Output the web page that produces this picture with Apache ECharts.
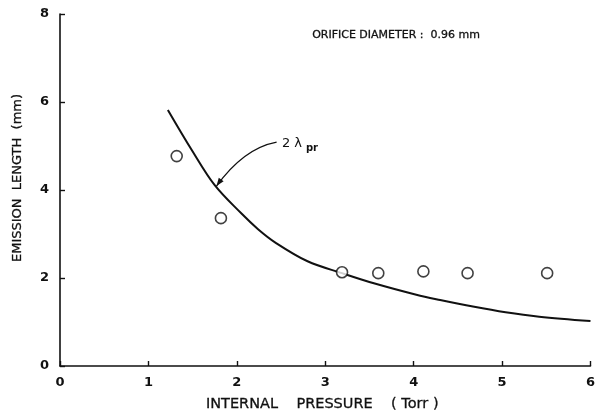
<!DOCTYPE html>
<html>
<head>
<meta charset="utf-8">
<script src="https://cdn.jsdelivr.net/npm/echarts@6/dist/echarts.min.js"></script>
<style>
html,body{margin:0;padding:0;background:#fff;}
#c{width:598px;height:417px;}
</style>
</head>
<body>
<div id="c"></div>
<script>
// Data
var xTicks = [0, 1, 2, 3, 4, 5, 6];
var yTicks = [0, 2, 4, 6, 8];
var measuredPressure = [1.32, 1.82, 3.19, 3.60, 4.11, 4.61, 5.51];
var measuredLength   = [4.77, 3.36, 2.13, 2.11, 2.15, 2.11, 2.11];
var curvePressure = [1.22, 1.49, 1.75, 2.05, 2.24, 2.44, 2.80, 3.19, 3.55, 4.03, 4.30, 4.67, 5.04, 5.42, 6.00];
var curveLength   = [5.82, 4.91, 4.11, 3.47, 3.11, 2.80, 2.38, 2.11, 1.88, 1.62, 1.50, 1.35, 1.22, 1.12, 1.02];
var xTitle = 'INTERNAL    PRESSURE    ( Torr )';
var yTitle = 'EMISSION  LENGTH  (mm)';
var noteText = 'ORIFICE DIAMETER :  0.96 mm';
var curveLabel = '2 \u03bb';
var curveLabelSub = 'pr';

var WFONT = '"DejaVu Sans", sans-serif';
var INK = '#111';

var chart = echarts.init(document.getElementById('c'), null, {renderer: 'canvas'});

function zip(a, b) { return a.map(function (v, i) { return [v, b[i]]; }); }

var option = {
  animation: false,
  backgroundColor: '#fff',
  grid: {left: 60, right: 3, top: 14, bottom: 51, containLabel: false},
  xAxis: {
    type: 'value', min: xTicks[0], max: xTicks[xTicks.length - 1], interval: 1,
    axisLine: {show: true, onZero: false, lineStyle: {color: INK, width: 1.6}},
    axisTick: {show: true, inside: true, length: 5, lineStyle: {color: INK, width: 1.4}},
    axisLabel: {color: INK, fontFamily: WFONT, fontSize: 13, fontWeight: 'bold', margin: 10,
      formatter: function (v) { return xTicks.indexOf(v) >= 0 ? String(v) : ''; }},
    splitLine: {show: false}
  },
  yAxis: {
    type: 'value', min: yTicks[0], max: yTicks[yTicks.length - 1], interval: 2,
    axisLine: {show: true, onZero: false, lineStyle: {color: INK, width: 1.6}},
    axisTick: {show: true, inside: true, length: 5, lineStyle: {color: INK, width: 1.4}},
    axisLabel: {color: INK, fontFamily: WFONT, fontSize: 13, fontWeight: 'bold', margin: 11,
      formatter: function (v) { return yTicks.indexOf(v) >= 0 ? String(v) : ''; }},
    splitLine: {show: false}
  },
  series: [
    {
      type: 'line', data: zip(curvePressure, curveLength), smooth: 0.35,
      symbol: 'none', lineStyle: {color: INK, width: 2}, z: 2
    },
    {
      type: 'scatter', data: zip(measuredPressure, measuredLength),
      symbol: 'circle', symbolSize: 11,
      itemStyle: {color: '#fff', borderColor: INK, borderWidth: 1.6}, z: 3
    }
  ]
};
chart.setOption(option);

// Annotations placed via the axis scales
function px(x, y) { return chart.convertToPixel({gridIndex: 0}, [x, y]); }
var gridLeft = px(0, 0)[0], gridRight = px(6, 0)[0];
var gridTop = px(0, 8)[1], gridBottom = px(0, 0)[1];

var noteAt = px(2.85, 7.5);
var labelAt = px(2.51, 5.03);
var arrowStart = px(2.45, 5.09);
var arrowCtrl = px(2.08, 4.95);
var arrowEnd = px(1.77, 4.09);

var dx = arrowEnd[0] - arrowCtrl[0], dy = arrowEnd[1] - arrowCtrl[1];
var len = Math.sqrt(dx * dx + dy * dy); dx /= len; dy /= len;
var hl = 8, hw = 3;
var head = [
  [arrowEnd[0], arrowEnd[1]],
  [arrowEnd[0] - dx * hl - dy * hw, arrowEnd[1] - dy * hl + dx * hw],
  [arrowEnd[0] - dx * hl + dy * hw, arrowEnd[1] - dy * hl - dx * hw]
];

chart.setOption({
  graphic: [
    {type: 'text', left: noteAt[0], top: noteAt[1] - 7,
      style: {text: noteText, font: '11px ' + WFONT, fill: INK, stroke: INK, lineWidth: 0.3}},
    {type: 'text', left: labelAt[0], top: labelAt[1] - 8,
      style: {text: curveLabel, font: '13px ' + WFONT, fill: INK}},
    {type: 'text', left: labelAt[0] + 24, top: labelAt[1] - 1,
      style: {text: curveLabelSub, font: 'bold 10px ' + WFONT, fill: INK}},
    {type: 'bezierCurve', shape: {x1: arrowStart[0], y1: arrowStart[1], x2: arrowEnd[0], y2: arrowEnd[1],
      cpx1: arrowCtrl[0], cpy1: arrowCtrl[1]}, style: {stroke: INK, lineWidth: 1.2, fill: null}},
    {type: 'polygon', shape: {points: head}, style: {fill: INK}},
    {type: 'text', x: (gridLeft + gridRight) / 2 - 3, y: gridBottom + 38,
      style: {text: xTitle, font: '14.5px ' + WFONT, fill: INK, stroke: INK, lineWidth: 0.3, align: 'center', verticalAlign: 'middle'}},
    {type: 'text', x: 18, y: (gridTop + gridBottom) / 2 - 12, rotation: Math.PI / 2,
      style: {text: yTitle, font: '13px ' + WFONT, fill: INK, stroke: INK, lineWidth: 0.3, align: 'center', verticalAlign: 'middle'}}
  ]
});
</script>
</body>
</html>
